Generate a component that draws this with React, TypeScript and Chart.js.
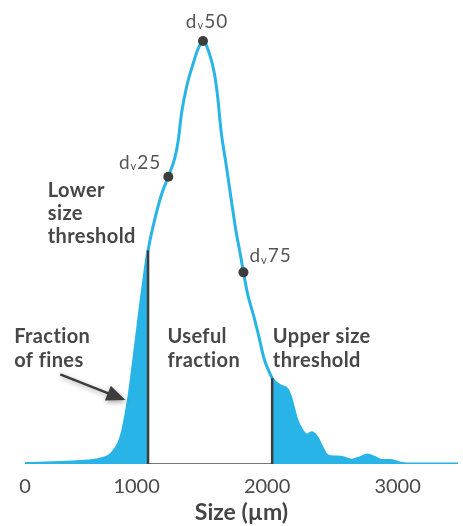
import React, { useEffect, useRef } from 'react';
import { Chart, registerables } from 'chart.js';

Chart.register(...registerables);

// ---- Data ----
// particle size (µm) and relative volume (% of peak)
const sizes = [
  145, 259, 410, 562, 713, 789, 827, 865, 895, 918, 940, 959, 978, 997, 1028, 1062, 1088,
  1143, 1193, 1243, 1294, 1319, 1344, 1382, 1433, 1471, 1509, 1559, 1597, 1622, 1647,
  1685, 1723, 1761, 1799, 1819, 1850, 1900, 1938, 1976, 2014, 2039, 2062, 2107, 2153,
  2178, 2203, 2228, 2266, 2304, 2342, 2380, 2418, 2456, 2493, 2569, 2645, 2696, 2771,
  2821, 2872, 2948, 3024, 3075, 3289, 3463,
];
const volume = [
  0.1, 0.2, 0.35, 0.6, 1.1, 1.9, 3.1, 5.0, 8.0, 11.6, 15.6, 19.8, 24.5, 29.2, 37.0, 45.0, 50.5,
  58.3, 63.9, 67.9, 72.5, 76.4, 82.8, 89.0, 94.6, 98.1, 100, 96.9, 92.2, 86.6, 78.8,
  71.0, 63.0, 55.2, 48.9, 45.3, 40.3, 34.7, 30.0, 25.0, 21.9, 20.3, 19.3, 18.4, 17.7,
  16.0, 13.2, 10.4, 8.0, 6.8, 7.4, 6.4, 4.1, 2.1, 1.7, 1.6, 0.9, 1.3, 2.1,
  1.6, 0.9, 0.8, 0.2, 0, 0, 0,
];
const lowerThreshold = 1088;
const upperThreshold = 2039;
const markerSizes = [1243, 1509, 1819];
const markerValues = [67.9, 100, 45.3];
const markerLabels = ['25', '50', '75'];
const axisStart = 145; // left end of the axis, labelled "0" in the reference
const axisEnd = 3463;
const tickValues = [1000, 2000, 3000];

const BLUE = '#28b4e6';
const DARK = '#3d3d3d';
const TEXT = '#474747';

const valueAt = (s: number) => volume[sizes.indexOf(s)];

const annotationPlugin = {
  id: 'psdAnnotations',
  afterDatasetsDraw(chart: any) {
    const { ctx } = chart;
    const xs = chart.scales.x;
    const ys = chart.scales.y;
    const X = (v: number) => xs.getPixelForValue(v);
    const Y = (v: number) => ys.getPixelForValue(v);
    ctx.save();
    ctx.letterSpacing = '0.4px';
    ctx.fillStyle = TEXT;
    ctx.textBaseline = 'alphabetic';
    ctx.textAlign = 'left';
    ctx.font = 'bold 20px Lato';
    const blocks = [
      { lines: ['Lower', 'size', 'threshold'], x: 319, y: 63.0, lh: 23 },
      { lines: ['Fraction', 'of fines'], x: 62, y: 28.5, lh: 24 },
      { lines: ['Useful', 'fraction'], x: 1236, y: 28.5, lh: 24 },
      { lines: ['Upper size', 'threshold'], x: 2044, y: 28.5, lh: 24 },
    ];
    blocks.forEach((b) => {
      b.lines.forEach((l, i) => ctx.fillText(l, X(b.x), Y(b.y) + i * b.lh));
    });

    // arrow
    const tx = X(415), ty = Y(21.2);
    const hx = X(915), hy = Y(15.1);
    const ang = Math.atan2(hy - ty, hx - tx);
    const headLen = 19, headW = 8;
    const bx = hx - Math.cos(ang) * headLen;
    const by = hy - Math.sin(ang) * headLen;
    ctx.save();
    ctx.shadowColor = 'rgba(0,0,0,0.35)';
    ctx.shadowBlur = 5;
    ctx.shadowOffsetX = 1;
    ctx.shadowOffsetY = 2;
    ctx.strokeStyle = DARK;
    ctx.fillStyle = DARK;
    ctx.lineWidth = 2.5;
    ctx.beginPath();
    ctx.moveTo(tx, ty);
    ctx.lineTo(bx + Math.cos(ang) * 2, by + Math.sin(ang) * 2);
    ctx.stroke();
    ctx.beginPath();
    ctx.moveTo(hx, hy);
    ctx.lineTo(bx + Math.sin(ang) * headW, by - Math.cos(ang) * headW);
    ctx.lineTo(bx - Math.sin(ang) * headW, by + Math.cos(ang) * headW);
    ctx.closePath();
    ctx.fill();
    ctx.restore();

    // d_v labels
    const placements = [
      { align: 'right', dx: -7, dy: -8 },
      { align: 'center', dx: 4, dy: -13 },
      { align: 'left', dx: 6, dy: -10 },
    ];
    ctx.fillStyle = '#555555';
    ctx.letterSpacing = '1px';
    markerSizes.forEach((s, i) => {
      const p = placements[i];
      const px = X(s), py = Y(markerValues[i]);
      ctx.font = '19px Lato';
      const wd = ctx.measureText('d').width;
      const wn = ctx.measureText(markerLabels[i]).width;
      ctx.font = '11px Lato';
      const wv = ctx.measureText('v').width;
      const total = wd + wv + wn;
      let start = px + p.dx;
      if (p.align === 'right') start = px + p.dx - total;
      if (p.align === 'center') start = px + p.dx - total / 2;
      const base = py + p.dy;
      ctx.font = '19px Lato';
      ctx.fillText('d', start, base);
      ctx.font = '11px Lato';
      ctx.fillText('v', start + wd, base + 1.5);
      ctx.font = '19px Lato';
      ctx.fillText(markerLabels[i], start + wd + wv, base);
    });
    ctx.restore();
  },
};

export default function App() {
  const ref = useRef<HTMLCanvasElement | null>(null);
  useEffect(() => {
    if (!ref.current) return;
    document.documentElement.style.overflow = 'hidden';
    document.body.style.overflow = 'hidden';
    const pts = sizes.map((s, i) => ({ x: s, y: volume[i] }));
    const fines = pts.filter((p) => p.x <= lowerThreshold);
    const coarse = pts.filter((p) => p.x >= upperThreshold);
    const chart = new Chart(ref.current, {
      type: 'line',
      data: {
        datasets: [
          {
            label: 'markers',
            data: markerSizes.map((s, i) => ({ x: s, y: markerValues[i] })),
            showLine: false,
            pointRadius: 5,
            pointBackgroundColor: DARK,
            pointBorderWidth: 0,
            order: 0,
          } as any,
          {
            label: 'lower',
            data: [
              { x: lowerThreshold, y: 0 },
              { x: lowerThreshold, y: valueAt(lowerThreshold) },
            ],
            borderColor: DARK,
            borderWidth: 2.5,
            pointRadius: 0,
            order: 1,
          },
          {
            label: 'upper',
            data: [
              { x: upperThreshold, y: 0 },
              { x: upperThreshold, y: valueAt(upperThreshold) },
            ],
            borderColor: DARK,
            borderWidth: 2.5,
            pointRadius: 0,
            order: 1,
          },
          {
            label: 'distribution',
            data: pts,
            borderColor: BLUE,
            borderWidth: 3,
            pointRadius: 0,
            cubicInterpolationMode: 'monotone',
            fill: false,
            order: 2,
          },
          {
            label: 'fines',
            data: fines,
            borderWidth: 0,
            borderColor: BLUE,
            backgroundColor: BLUE,
            pointRadius: 0,
            cubicInterpolationMode: 'monotone',
            fill: 'origin',
            order: 3,
          },
          {
            label: 'coarse',
            data: coarse,
            borderWidth: 0,
            borderColor: BLUE,
            backgroundColor: BLUE,
            pointRadius: 0,
            cubicInterpolationMode: 'monotone',
            fill: 'origin',
            order: 3,
          },
          {
            label: 'baseline',
            data: [
              { x: lowerThreshold, y: 0 },
              { x: upperThreshold, y: 0 },
            ],
            borderColor: '#4a4a4a',
            borderWidth: 1.5,
            pointRadius: 0,
            order: 4,
          },
        ],
      },
      options: {
        animation: false,
        responsive: true,
        maintainAspectRatio: false,
        layout: { padding: { left: 25, top: 4, right: 0, bottom: 0 } },
        plugins: { legend: { display: false }, tooltip: { enabled: false } },
        scales: {
          x: {
            type: 'linear',
            min: axisStart,
            max: axisEnd,
            afterBuildTicks: (scale: any) => {
              scale.ticks = [axisStart, ...tickValues].map((v) => ({ value: v }));
            },
            ticks: {
              callback: (v: any) => (v === axisStart ? '0' : String(v)),
              font: { family: 'Lato', size: 20 },
              color: '#4a4a4a',
              padding: 11,
              maxRotation: 0,
              autoSkip: false,
            },
            grid: { display: false, drawTicks: false },
            border: { display: false },
            title: {
              display: true,
              text: 'Size (µm)',
              font: { family: 'Lato', size: 23, weight: 'bold' },
              color: '#444444',
              padding: { top: -11.6, bottom: 0 },
            },
          },
          y: { display: false, min: 0, max: 108.5 },
        },
      },
      plugins: [annotationPlugin],
    } as any);
    return () => chart.destroy();
  }, []);
  return (
    <div style={{ position: 'fixed', left: 0, top: 0, width: 463, height: 526, overflow: 'hidden' }}>
      <canvas ref={ref} style={{ display: 'block' }} />
    </div>
  );
}
